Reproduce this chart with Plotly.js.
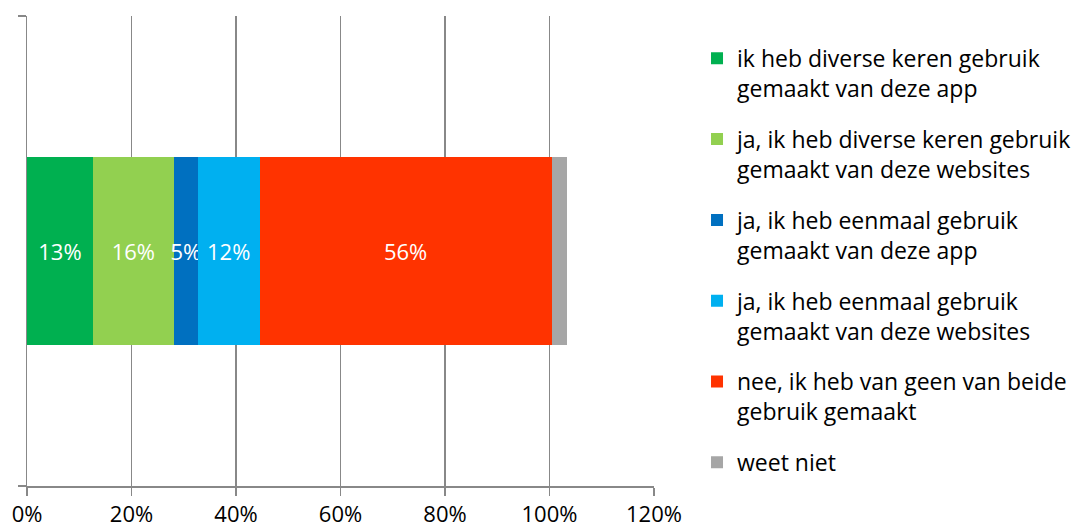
<!DOCTYPE html>
<html>
<head>
<meta charset="utf-8">
<script src="https://cdn.plot.ly/plotly-3.0.1.min.js"></script>
<style>
  html, body { margin: 0; padding: 0; background: #ffffff; }
  #chart { width: 1078px; height: 530px; }
</style>
</head>
<body>
<div id="chart"></div>
<script>
// ---- data ----
const categories = ['gebruik'];
const seriesNames = [
  'ik heb diverse keren gebruik<br>gemaakt van deze app',
  'ja, ik heb diverse keren gebruik<br>gemaakt van deze websites',
  'ja, ik heb eenmaal gebruik<br>gemaakt van deze app',
  'ja, ik heb eenmaal gebruik<br>gemaakt van deze websites',
  'nee, ik heb van geen van beide<br>gebruik gemaakt',
  'weet niet'
];
const seriesValues = [12.6, 15.5, 4.6, 11.8, 55.9, 2.9];
const dataLabels = ['13%', '16%', '5%', '12%', '56%', ''];
const seriesColors = ['#00B050', '#92D050', '#0070C0', '#00B0F0', '#FF3300', '#A6A6A6'];
const xTickValues = [0, 20, 40, 60, 80, 100, 120];
const xTickLabels = ['0%', '20%', '40%', '60%', '80%', '100%', '120%'];

const FONT = '"Open Sans", "Noto Sans", "Liberation Sans", sans-serif';

const traces = seriesNames.map((name, i) => ({
  type: 'bar',
  orientation: 'h',
  name: name,
  legendgroup: 'g' + i,
  y: categories,
  x: [seriesValues[i]],
  text: [dataLabels[i]],
  textposition: 'inside',
  insidetextanchor: 'middle',
  textangle: 0,
  textfont: { family: FONT, size: 22, color: '#ffffff' },
  marker: { color: seriesColors[i], line: { width: 0 } },
  hoverinfo: 'skip'
}));

const layout = {
  width: 1078,
  height: 530,
  margin: { l: 27, r: 424, t: 16, b: 44, pad: 0, autoexpand: false },
  paper_bgcolor: '#ffffff',
  plot_bgcolor: '#ffffff',
  barmode: 'stack',
  bargap: 0.6,
  showlegend: true,
  uniformtext: { minsize: 22, mode: 'show' },
  font: { family: FONT, size: 22, color: '#000000' },
  xaxis: {
    range: [0, 120],
    tickvals: xTickValues,
    ticktext: xTickLabels,
    showgrid: true,
    gridcolor: '#888888',
    gridwidth: 1.5,
    zeroline: false,
    showline: true,
    linecolor: '#888888',
    linewidth: 1.5,
    ticks: 'outside',
    ticklen: 8,
    tickwidth: 1.5,
    tickcolor: '#888888',
    tickfont: { family: FONT, size: 22, color: '#000000' },
    fixedrange: true
  },
  yaxis: {
    type: 'category',
    categoryarray: categories,
    range: [-0.5, 0.5],
    showticklabels: false,
    showgrid: false,
    zeroline: false,
    showline: true,
    linecolor: '#888888',
    linewidth: 1.5,
    ticks: 'outside',
    tickson: 'boundaries',
    ticklen: 8,
    tickwidth: 1.5,
    tickcolor: '#888888',
    fixedrange: true
  },
  legend: {
    x: 1.0686,
    xanchor: 'left',
    y: 0.9556,
    yanchor: 'top',
    traceorder: 'grouped',
    tracegroupgap: 18,
    valign: 'top',
    bgcolor: 'rgba(0,0,0,0)',
    borderwidth: 0,
    font: { family: FONT, size: 23, color: '#000000' }
  }
};

Plotly.newPlot('chart', traces, layout, { displayModeBar: false, staticPlot: true });
</script>
</body>
</html>
